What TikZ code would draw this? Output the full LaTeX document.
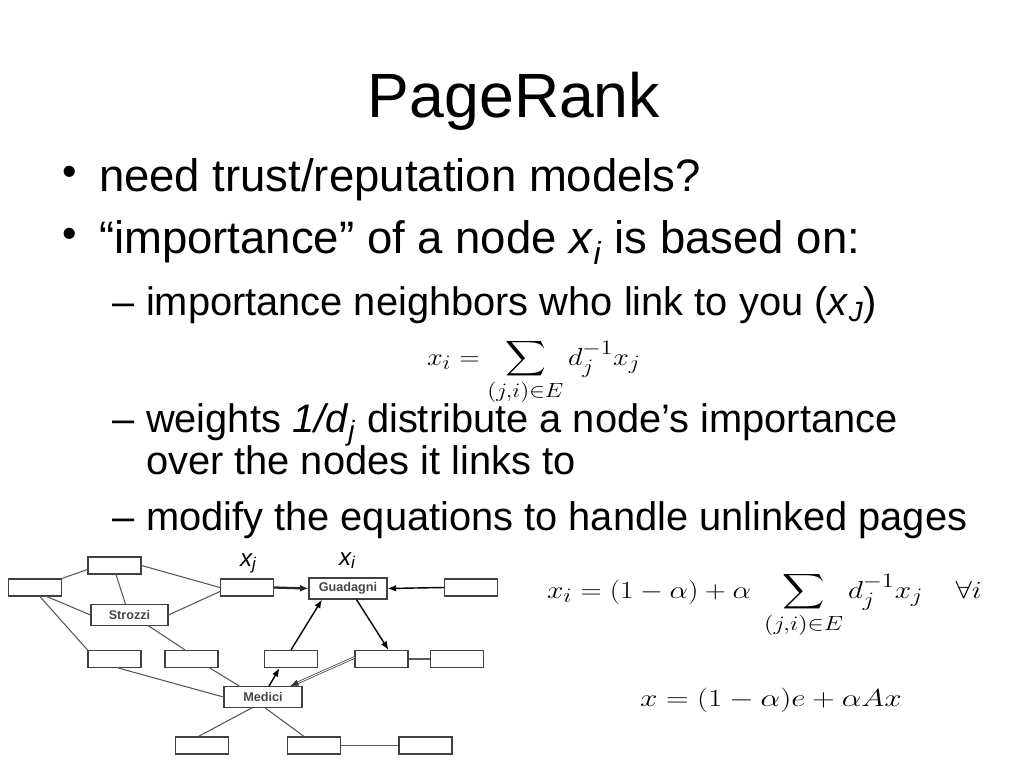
\documentclass[tikz,border=0pt]{standalone}
\usepackage{exscale}
\usepackage{graphicx}
\usepackage{fontspec}
\setmainfont{Liberation Sans}
\usetikzlibrary{calc,arrows.meta}
\tikzset{
  txt/.style={anchor=base west, inner sep=0pt, outer sep=0pt},
  lvlone/.style={txt, font=\fontsize{32}{38}\selectfont},
  lvltwo/.style={txt, font=\fontsize{28}{34}\selectfont},
  bulletdot/.style={txt, font=\fontsize{29}{34}\selectfont},
  eqn/.style={txt, font=\fontsize{19}{23}\selectfont},
  gbox/.style={draw=black!75, line width=0.8pt, fill=white, inner sep=0pt,
    minimum width=37.3pt, minimum height=12pt},
  namebox/.style={gbox, minimum width=54.8pt, minimum height=14.4pt,
    font=\fontsize{8.9}{10}\selectfont\bfseries, text=black!72},
  gline/.style={draw=black!65, line width=0.75pt},
  garrow/.style={draw=black, line width=1pt, -{Latex[length=6pt,width=4.6pt]}},
  glabel/.style={txt, font=\fontsize{17}{20}\selectfont\itshape},
}
\newcommand{\eqstretch}[2]{\scalebox{#1}[1]{#2}}
\begin{document}
\begin{tikzpicture}[x=0.703125pt, y=-0.703125pt]
\fill[white] (0,0) rectangle (1024,768);
\useasboundingbox (0,0) rectangle (1024,768);

% title
\node[anchor=base, inner sep=0pt, font=\fontsize{44}{52}\selectfont] (title) at (514,118) {PageRank};

% bullets
\node[bulletdot] (d1) at (62,186) {•};
\node[lvlone] (t1) at (99,192) {need trust/reputation models?};
\node[bulletdot] (d2) at (62,248) {•};
\node[lvlone] (t2) at (99,254) {“importance” of a node \textit{x}\textsubscript{\textit{i}} is based on:};

\node[lvltwo] (s1d) at (112,315) {–};
\node[lvltwo] (s1) at (146,315) {importance neighbors who link to you (\textit{x}\textsubscript{\textit{J}})};
\node[lvltwo] (s2d) at (112,432) {–};
\node[lvltwo] (s2) at (146,432) {weights \textit{1/d}\textsubscript{\textit{j}} distribute a node’s importance};
\node[lvltwo] (s2b) at (146,474) {over the nodes it links to};
\node[lvltwo] (s3d) at (112,530) {–};
\node[lvltwo] (s3) at (146,530) {modify the equations to handle unlinked pages};

% equations
\node[eqn] (eq1) at (427,365) {\eqstretch{1.15}{$\displaystyle x_i = \sum_{(j,i)\in E} d_j^{-1} x_j$}};
\node[eqn] (eq2) at (547,598) {\eqstretch{1.195}{$\displaystyle x_i = (1-\alpha) + \alpha\;\sum_{(j,i)\in E} d_j^{-1} x_j \quad \forall i$}};
\node[eqn] (eq3) at (640,706) {\eqstretch{1.27}{$x = (1-\alpha)e + \alpha A x$}};

% graph nodes
\node[gbox] (A) at (35,587.5) {};
\node[gbox] (B) at (114.5,565.5) {};
\node[namebox, minimum width=54.1pt] (S) at (129.5,615) {Strozzi};
\node[gbox] (Xj) at (247,587.5) {};
\node[namebox, minimum height=14.8pt] (Gu) at (348,588.5) {Guadagni};
\node[gbox] (R) at (471,587.5) {};
\node[gbox] (C) at (114.5,659) {};
\node[gbox] (D) at (191.5,659) {};
\node[gbox] (E) at (291,659) {};
\node[gbox] (F) at (381.5,659) {};
\node[gbox] (G) at (457,659) {};
\node[namebox] (M) at (263,697) {Medici};
\node[gbox] (H) at (202,745.5) {};
\node[gbox] (I) at (314,745.5) {};
\node[gbox] (J) at (425.5,745.5) {};

% labels
\node[glabel] (lxj) at (240,566) {x\textsubscript{j}};
\node[glabel] (lxi) at (339,565) {x\textsubscript{i}};

% undirected edges
\draw[gline] (A.north east) -- ($(B.west)+(0,4)$);
\draw[gline] (B.east) -- (Xj.west);
\draw[gline] ($(B.south)+(1.5,0)$) -- ($(S.north)+(-4,0)$);
\draw[gline] ($(A.south)+(5,0)$) -- (C.north west);
\draw[gline] ($(A.south)+(12,0)$) -- (S.west);
\draw[gline] (S.east) -- ($(Xj.west)+(0,4)$);
\draw[gline] ($(S.south)+(19,0)$) -- ($(D.north)+(-6.5,0)$);
\draw[gline] ($(C.south)+(4,0)$) -- (M.west);
\draw[gline] ($(D.south)+(18.5,0)$) -- ($(M.north)+(-23.5,0)$);
\draw[gline] (F.east) -- (G.west);
\draw[gline] ($(M.south)+(-11,0)$) -- ($(H.north)+(-3.5,0)$);
\draw[gline] ($(M.south)+(2,0)$) -- ($(I.north)+(-10,0)$);
\draw[gline] (I.east) -- (J.west);

% directed edges
\draw[garrow] ($(M.north)+(6,0)$) -- ($(E.south)+(-11.5,0)$);
\draw[garrow] (E.north) -- ($(Gu.south)+(-26,0)$);
\draw[garrow] ($(Gu.south)+(8.5,0)$) -- ($(F.north)+(7,0)$);
\draw[garrow, line width=1.6pt, draw=black!85, -{Latex[length=6pt,width=5pt]}] (Xj.east) -- (Gu.west);
\draw[garrow] (R.west) -- (Gu.east);
\draw[draw=black!80, line width=0.5pt, double=white, double distance=0.7pt, -{Latex[length=6pt,width=4.6pt]}] ($(F.west)+(0,-1.5)$) -- ($(M.north)+(27,0)$);
\end{tikzpicture}
\end{document}
